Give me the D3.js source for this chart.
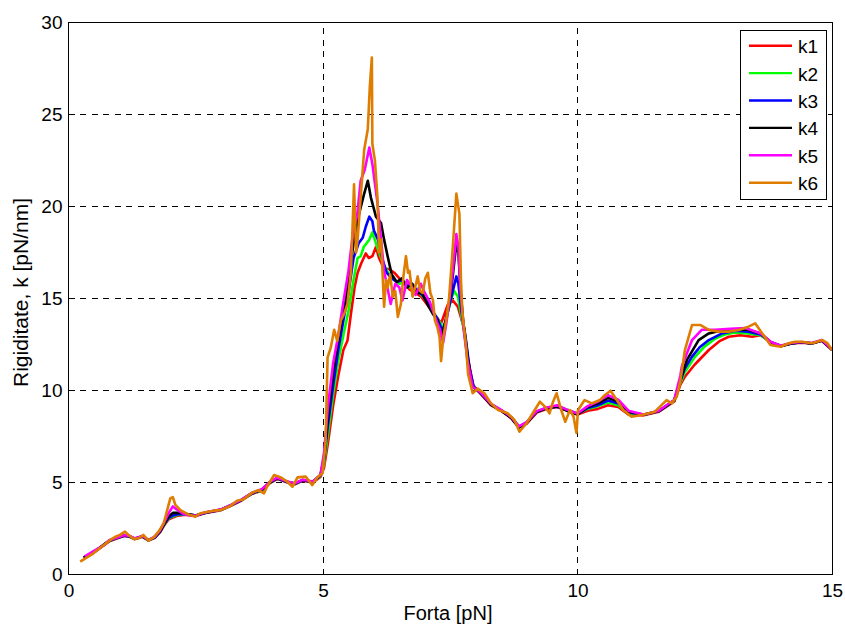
<!DOCTYPE html>
<html>
<head>
<meta charset="utf-8">
<script src="https://cdn.jsdelivr.net/npm/d3@7"></script>
<style>
  html, body { margin: 0; padding: 0; background: #fff; }
  svg { display: block; font-family: "Liberation Sans", Arial, sans-serif; }
</style>
</head>
<body>
<svg id="chart" width="845" height="625"></svg>
<script>
// Stiffness k (pN/nm) versus force (pN), six estimates k1..k6: [force, stiffness]
const k1 = [[0.30,0.90],[0.50,1.20],[0.80,1.80],[0.95,1.95],[1.10,2.10],[1.20,2.05],[1.30,1.92],[1.45,2.05],[1.57,1.85],[1.70,2.00],[1.80,2.30],[1.90,2.75],[1.97,3.00],[2.05,3.10],[2.15,3.20],[2.30,3.25],[2.50,3.18],[2.70,3.35],[3.00,3.50],[3.20,3.75],[3.40,4.02],[3.60,4.38],[3.80,4.55],[3.95,4.95],[4.10,5.20],[4.30,5.00],[4.45,4.90],[4.60,5.10],[4.80,5.00],[4.95,5.30],[5.02,5.80],[5.10,7.20],[5.20,9.20],[5.30,10.80],[5.40,12.20],[5.48,12.70],[5.55,14.20],[5.62,15.60],[5.68,16.40],[5.75,16.90],[5.84,17.45],[5.90,17.20],[5.97,17.30],[6.04,17.80],[6.10,17.20],[6.20,16.60],[6.30,16.60],[6.40,16.40],[6.53,16.00],[6.70,15.50],[6.93,15.10],[7.12,14.40],[7.32,13.65],[7.45,14.65],[7.55,14.90],[7.65,14.55],[7.78,13.30],[7.85,11.70],[7.95,10.30],[8.10,9.80],[8.30,9.20],[8.50,8.90],[8.70,8.50],[8.85,8.00],[9.00,8.20],[9.20,8.80],[9.40,9.00],[9.60,9.10],[9.80,8.90],[10.00,8.70],[10.20,8.90],[10.40,9.00],[10.60,9.20],[10.80,9.10],[11.00,8.70],[11.30,8.65],[11.60,8.85],[11.90,9.40],[12.02,10.30],[12.11,10.75],[12.30,11.40],[12.58,12.20],[12.80,12.70],[12.97,12.92],[13.20,13.00],[13.43,12.92],[13.60,13.00],[13.80,12.60],[14.00,12.40],[14.20,12.55],[14.40,12.60],[14.60,12.55],[14.80,12.70],[15.00,12.20]];

const k2 = [[0.32,0.95],[0.50,1.22],[0.80,1.82],[0.95,1.97],[1.10,2.12],[1.20,2.06],[1.30,1.93],[1.45,2.06],[1.57,1.86],[1.70,2.01],[1.80,2.32],[1.90,2.80],[1.97,3.05],[2.05,3.15],[2.15,3.25],[2.30,3.28],[2.50,3.20],[2.70,3.36],[3.00,3.52],[3.20,3.76],[3.40,4.04],[3.60,4.40],[3.80,4.58],[3.95,4.97],[4.10,5.22],[4.30,5.02],[4.45,4.92],[4.60,5.12],[4.80,5.02],[4.95,5.35],[5.02,6.00],[5.10,7.70],[5.20,9.80],[5.30,11.60],[5.40,13.00],[5.50,14.30],[5.60,16.00],[5.68,17.20],[5.74,17.30],[5.80,17.80],[5.91,18.20],[5.97,18.60],[6.04,18.00],[6.10,17.50],[6.20,16.80],[6.30,16.30],[6.40,16.00],[6.50,15.80],[6.60,15.90],[6.70,15.60],[6.80,15.60],[6.90,15.30],[7.00,15.00],[7.10,14.60],[7.20,14.10],[7.30,13.70],[7.38,13.30],[7.45,14.20],[7.52,15.00],[7.58,15.40],[7.65,15.10],[7.72,14.00],[7.80,12.80],[7.88,11.00],[7.96,10.20],[8.10,9.85],[8.30,9.25],[8.50,8.92],[8.70,8.55],[8.85,8.05],[9.00,8.25],[9.20,8.85],[9.40,9.05],[9.60,9.15],[9.80,8.95],[10.00,8.75],[10.20,9.00],[10.40,9.15],[10.60,9.35],[10.80,9.20],[11.00,8.75],[11.30,8.68],[11.60,8.88],[11.90,9.45],[12.02,10.40],[12.11,11.00],[12.30,11.80],[12.50,12.40],[12.71,12.83],[12.90,13.05],[13.10,13.15],[13.35,13.10],[13.60,13.00],[13.80,12.62],[14.00,12.42],[14.20,12.56],[14.40,12.62],[14.60,12.56],[14.80,12.72],[15.00,12.22]];

const k3 = [[0.30,0.92],[0.50,1.21],[0.80,1.83],[0.95,1.98],[1.10,2.11],[1.20,2.07],[1.30,1.94],[1.45,2.07],[1.57,1.86],[1.70,2.02],[1.80,2.33],[1.90,2.82],[1.97,3.08],[2.05,3.20],[2.15,3.28],[2.30,3.28],[2.50,3.20],[2.70,3.36],[3.00,3.52],[3.20,3.77],[3.40,4.05],[3.60,4.40],[3.80,4.60],[3.95,4.98],[4.10,5.22],[4.30,5.03],[4.45,4.93],[4.60,5.12],[4.80,5.03],[4.95,5.38],[5.02,6.20],[5.10,8.20],[5.20,10.30],[5.30,12.20],[5.40,13.80],[5.50,15.30],[5.60,17.20],[5.70,18.00],[5.78,18.30],[5.84,18.90],[5.91,19.45],[5.97,19.20],[6.00,18.70],[6.08,18.20],[6.15,17.30],[6.25,16.40],[6.35,16.10],[6.45,15.90],[6.55,16.00],[6.65,15.70],[6.75,15.80],[6.85,15.40],[6.95,15.20],[7.05,14.80],[7.15,14.30],[7.25,13.90],[7.35,13.20],[7.42,13.90],[7.48,14.60],[7.55,15.40],[7.62,16.20],[7.66,15.80],[7.72,14.30],[7.80,12.90],[7.88,11.20],[7.96,10.20],[8.10,9.85],[8.30,9.25],[8.50,8.92],[8.70,8.52],[8.85,8.02],[9.00,8.25],[9.20,8.85],[9.40,9.05],[9.60,9.12],[9.80,8.92],[10.00,8.72],[10.20,9.05],[10.40,9.20],[10.60,9.45],[10.80,9.30],[11.00,8.80],[11.30,8.68],[11.60,8.88],[11.90,9.45],[12.02,10.50],[12.11,11.20],[12.25,11.84],[12.40,12.35],[12.58,12.74],[12.84,13.10],[13.10,13.25],[13.35,13.20],[13.60,13.05],[13.80,12.62],[14.00,12.42],[14.20,12.56],[14.40,12.62],[14.60,12.56],[14.80,12.72],[15.00,12.22]];

const k4 = [[0.30,0.93],[0.50,1.22],[0.80,1.84],[0.95,1.99],[1.10,2.12],[1.20,2.08],[1.30,1.94],[1.45,2.08],[1.57,1.87],[1.70,2.03],[1.80,2.35],[1.90,2.86],[1.97,3.15],[2.05,3.35],[2.15,3.35],[2.30,3.30],[2.50,3.21],[2.70,3.37],[3.00,3.53],[3.20,3.78],[3.40,4.06],[3.60,4.42],[3.80,4.62],[3.95,5.00],[4.10,5.24],[4.30,5.04],[4.45,4.94],[4.60,5.14],[4.80,5.04],[4.95,5.40],[5.02,6.40],[5.10,8.70],[5.20,11.00],[5.30,12.80],[5.40,14.30],[5.50,16.00],[5.60,18.00],[5.70,19.50],[5.80,20.60],[5.88,21.40],[5.94,20.50],[6.04,19.45],[6.14,19.10],[6.20,18.20],[6.27,17.30],[6.35,16.30],[6.45,15.90],[6.55,16.10],[6.65,15.60],[6.75,15.80],[6.85,15.30],[6.95,15.30],[7.05,14.70],[7.15,14.20],[7.25,13.80],[7.33,12.90],[7.40,13.70],[7.47,14.60],[7.52,15.50],[7.58,17.00],[7.62,18.00],[7.66,17.50],[7.70,15.50],[7.76,13.60],[7.84,11.80],[7.94,10.20],[8.10,9.85],[8.30,9.22],[8.50,8.90],[8.70,8.50],[8.85,7.98],[9.00,8.22],[9.20,8.85],[9.40,9.05],[9.60,9.15],[9.80,8.90],[10.00,8.70],[10.20,9.10],[10.40,9.30],[10.60,9.60],[10.80,9.40],[11.00,8.85],[11.30,8.68],[11.60,8.88],[11.90,9.45],[12.02,10.60],[12.15,11.66],[12.38,12.74],[12.58,13.10],[12.80,13.25],[13.10,13.30],[13.35,13.30],[13.60,13.10],[13.80,12.62],[14.00,12.42],[14.20,12.56],[14.40,12.62],[14.60,12.56],[14.80,12.72],[15.00,12.22]];

const k5 = [[0.32,0.98],[0.50,1.28],[0.70,1.60],[0.80,1.86],[0.95,2.00],[1.10,2.14],[1.20,2.10],[1.30,1.96],[1.45,2.10],[1.57,1.88],[1.70,2.05],[1.80,2.40],[1.90,2.95],[1.97,3.35],[2.05,3.70],[2.12,3.55],[2.25,3.30],[2.40,3.20],[2.50,3.20],[2.70,3.38],[3.00,3.54],[3.20,3.79],[3.40,4.07],[3.60,4.43],[3.80,4.64],[3.95,5.02],[4.10,5.26],[4.30,5.05],[4.45,4.95],[4.60,5.15],[4.80,5.05],[4.95,5.42],[5.02,6.60],[5.10,9.20],[5.20,11.50],[5.30,13.00],[5.40,14.80],[5.50,16.50],[5.60,18.80],[5.67,19.50],[5.74,21.40],[5.82,22.00],[5.91,23.20],[5.97,22.30],[6.07,20.20],[6.20,16.50],[6.33,14.70],[6.42,15.80],[6.50,15.60],[6.56,14.90],[6.65,16.00],[6.75,15.60],[6.82,15.20],[6.92,15.80],[7.00,15.30],[7.10,14.80],[7.20,14.00],[7.30,13.30],[7.36,12.60],[7.42,13.60],[7.50,15.30],[7.56,16.80],[7.62,18.50],[7.66,17.80],[7.70,15.50],[7.76,13.40],[7.84,11.60],[7.94,10.20],[8.10,9.88],[8.30,9.28],[8.50,8.95],[8.70,8.55],[8.85,8.05],[9.00,8.28],[9.20,8.88],[9.40,9.08],[9.60,9.20],[9.80,8.95],[10.00,8.75],[10.20,9.15],[10.40,9.40],[10.60,9.75],[10.80,9.50],[11.00,8.90],[11.30,8.70],[11.60,8.90],[11.90,9.50],[12.02,10.80],[12.05,11.30],[12.25,12.74],[12.44,13.30],[12.70,13.30],[13.00,13.35],[13.30,13.40],[13.60,13.10],[13.80,12.64],[14.00,12.44],[14.20,12.58],[14.40,12.64],[14.60,12.58],[14.80,12.74],[15.00,12.24]];

const k6 = [[0.23,0.70],[0.49,1.15],[0.82,1.88],[0.92,2.05],[1.01,2.15],[1.11,2.33],[1.18,2.15],[1.28,1.93],[1.38,1.97],[1.47,2.15],[1.57,1.84],[1.67,2.02],[1.77,2.33],[1.87,2.78],[1.93,3.41],[2.00,4.14],[2.05,4.20],[2.10,3.78],[2.20,3.50],[2.33,3.29],[2.49,3.14],[2.59,3.33],[2.85,3.47],[2.99,3.50],[3.18,3.72],[3.31,4.01],[3.44,4.09],[3.61,4.45],[3.74,4.59],[3.84,4.41],[3.90,4.77],[4.04,5.41],[4.17,5.28],[4.30,5.04],[4.40,4.77],[4.50,5.28],[4.66,5.32],[4.79,4.86],[4.89,5.28],[4.99,5.50],[5.05,7.10],[5.09,11.80],[5.15,12.30],[5.22,13.30],[5.28,12.70],[5.35,13.80],[5.42,14.20],[5.48,14.70],[5.55,16.50],[5.61,21.20],[5.65,17.50],[5.68,18.20],[5.74,20.50],[5.81,23.10],[5.88,24.20],[5.92,26.50],[5.96,28.10],[5.97,23.40],[6.02,22.50],[6.07,20.50],[6.10,17.50],[6.14,18.20],[6.17,16.40],[6.20,14.55],[6.24,16.00],[6.27,15.60],[6.32,16.30],[6.37,15.10],[6.42,15.40],[6.47,14.00],[6.53,14.70],[6.58,16.20],[6.63,17.30],[6.67,16.40],[6.70,16.50],[6.76,15.10],[6.81,15.60],[6.86,16.20],[6.91,15.40],[6.96,15.30],[7.01,16.10],[7.06,16.40],[7.11,15.30],[7.16,14.90],[7.20,13.80],[7.25,13.40],[7.29,12.90],[7.32,11.60],[7.36,12.80],[7.39,13.30],[7.44,14.20],[7.48,15.10],[7.55,17.80],[7.62,20.70],[7.68,19.60],[7.71,16.00],[7.74,14.20],[7.81,12.40],[7.85,10.90],[7.94,9.85],[8.04,10.10],[8.17,9.85],[8.30,9.30],[8.44,8.94],[8.63,8.76],[8.76,8.40],[8.86,7.76],[9.00,8.22],[9.16,8.94],[9.26,9.39],[9.36,9.12],[9.45,8.76],[9.52,9.39],[9.59,9.85],[9.68,8.94],[9.76,8.30],[9.85,8.94],[9.92,8.60],[9.98,7.69],[10.01,8.94],[10.14,9.48],[10.28,9.30],[10.44,9.48],[10.54,9.76],[10.65,9.99],[10.77,9.48],[10.90,8.94],[11.06,8.58],[11.26,8.67],[11.52,8.85],[11.75,9.48],[11.85,9.30],[11.95,9.66],[12.02,10.48],[12.11,12.20],[12.25,13.56],[12.41,13.56],[12.58,13.29],[12.77,13.20],[12.97,13.20],[13.17,13.29],[13.36,13.47],[13.49,13.65],[13.63,13.10],[13.79,12.47],[13.99,12.38],[14.15,12.57],[14.28,12.65],[14.41,12.65],[14.61,12.57],[14.81,12.74],[14.91,12.57],[15.00,12.20]];

const seriesNames = ["k1", "k2", "k3", "k4", "k5", "k6"];
const seriesData = [k1, k2, k3, k4, k5, k6];
const seriesColors = ["#ff0000", "#00ff00", "#0000ff", "#000000", "#ff00ff", "#de7d00"];
const xTicks = [0, 5, 10, 15];
const yTicks = [0, 5, 10, 15, 20, 25, 30];
const xLabel = "Forta [pN]";
const yLabel = "Rigiditate, k [pN/nm]";

const svg = d3.select("#chart");
const plot = { left: 68.5, right: 832, top: 22.5, bottom: 574.5 };
const FONT = "'Liberation Sans', Arial, sans-serif";

const x = d3.scaleLinear().domain([0, 15]).range([plot.left, plot.right]);
const y = d3.scaleLinear().domain([0, 30]).range([plot.bottom, plot.top]);

// dashed grid
const grid = svg.append("g").attr("stroke", "#000").attr("stroke-width", 1)
  .attr("stroke-dasharray", "6,5.5").attr("shape-rendering", "crispEdges");
grid.selectAll("line.gx").data(xTicks.filter(t => t > 0 && t < 15)).join("line")
  .attr("x1", d => x(d)).attr("x2", d => x(d))
  .attr("y1", plot.bottom).attr("y2", plot.top);
grid.selectAll("line.gy").data(yTicks.filter(t => t > 0 && t < 30)).join("line")
  .attr("x1", plot.left).attr("x2", plot.right)
  .attr("y1", d => y(d)).attr("y2", d => y(d));

// curves
svg.append("defs").append("clipPath").attr("id", "plotClip")
  .append("rect").attr("x", plot.left).attr("y", plot.top)
  .attr("width", plot.right - plot.left).attr("height", plot.bottom - plot.top);

const line = d3.line().x(d => x(d[0])).y(d => y(d[1]));
svg.append("g").attr("clip-path", "url(#plotClip)")
  .selectAll("path").data(seriesData).join("path")
  .attr("d", line)
  .attr("fill", "none")
  .attr("stroke", (d, i) => seriesColors[i])
  .attr("stroke-width", 2.6)
  .attr("stroke-linejoin", "round");

// axes (box with labels, no visible ticks)
const xAxis = d3.axisBottom(x).tickValues(xTicks).tickSize(0).tickPadding(9);
const yAxis = d3.axisLeft(y).tickValues(yTicks).tickSize(0).tickPadding(6);

const gx = svg.append("g").attr("transform", `translate(0,${plot.bottom})`).call(xAxis);
const gy = svg.append("g").attr("transform", `translate(${plot.left},0)`).call(yAxis);
[gx, gy].forEach(g => {
  g.select(".domain").remove();
  g.selectAll("text").attr("font-family", FONT)
    .attr("font-size", 19).attr("fill", "#000");
});
gx.selectAll("text").attr("dy", "0.71em");

svg.append("rect")
  .attr("x", plot.left).attr("y", plot.top)
  .attr("width", plot.right - plot.left).attr("height", plot.bottom - plot.top)
  .attr("fill", "none").attr("stroke", "#000").attr("stroke-width", 1)
  .attr("shape-rendering", "crispEdges");

// axis titles
svg.append("text")
  .attr("x", 448).attr("y", 620)
  .attr("text-anchor", "middle").attr("font-family", FONT).attr("font-size", 20).text(xLabel);
svg.append("text")
  .attr("transform", "translate(28,292.5) rotate(-90)")
  .attr("text-anchor", "middle").attr("font-family", FONT).attr("font-size", 21).text(yLabel);

// legend
const legend = svg.append("g");
legend.append("rect")
  .attr("x", 740).attr("y", 30.5).attr("width", 86).attr("height", 169)
  .attr("fill", "#fff").attr("stroke", "#000").attr("stroke-width", 1)
  .attr("shape-rendering", "crispEdges");
const rows = legend.selectAll("g.row").data(seriesNames).join("g")
  .attr("transform", (d, i) => `translate(0,${45.7 + i * 27.4})`);
rows.append("line")
  .attr("x1", 749).attr("x2", 792).attr("y1", 0).attr("y2", 0)
  .attr("stroke", (d, i) => seriesColors[i]).attr("stroke-width", 2.4);
rows.append("text")
  .attr("x", 798).attr("y", 7.5).attr("font-family", FONT).attr("font-size", 19).text(d => d);
</script>
</body>
</html>
